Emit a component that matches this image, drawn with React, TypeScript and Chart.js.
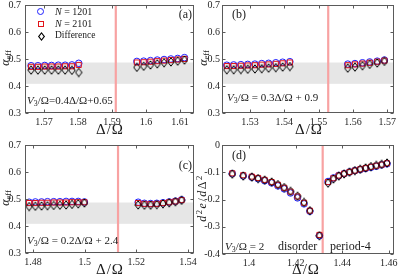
import React, { useEffect, useRef } from "react";
import { Chart, registerables } from "chart.js";

Chart.register(...registerables);

// ---------------- data ----------------
// panel (a)  V3/Ω = 0.4Δ/Ω + 0.65
const aDelta = [1.5662, 1.5682, 1.5702, 1.5722, 1.5742, 1.5762, 1.5782, 1.5802, 1.5973, 1.5993, 1.6013, 1.6033, 1.6053, 1.6073, 1.6093, 1.6113];
const aN1201 = [0.475, 0.475, 0.476, 0.476, 0.477, 0.477, 0.478, 0.484, 0.491, 0.492, 0.494, 0.496, 0.498, 0.5, 0.502, 0.505];
const aN2101 = [0.471, 0.471, 0.472, 0.472, 0.472, 0.473, 0.473, 0.478, 0.487, 0.488, 0.49, 0.492, 0.494, 0.496, 0.498, 0.5];
const aDiff = [0.459, 0.459, 0.459, 0.459, 0.459, 0.459, 0.458, 0.45, 0.469, 0.473, 0.478, 0.482, 0.486, 0.489, 0.492, 0.496];
const aTransition = 1.5911;
const aXTicks = [1.57, 1.58, 1.59, 1.6, 1.61];

// panel (b)  V3/Ω = 0.3Δ/Ω + 0.9
const bDelta = [1.5232, 1.5252, 1.5273, 1.5293, 1.5314, 1.5334, 1.5354, 1.5375, 1.5395, 1.5416, 1.5585, 1.5606, 1.5628, 1.5649, 1.5671, 1.5692];
const bN1201 = [0.477, 0.478, 0.479, 0.48, 0.481, 0.483, 0.484, 0.486, 0.488, 0.49, 0.481, 0.483, 0.486, 0.489, 0.492, 0.496];
const bN2101 = [0.474, 0.474, 0.475, 0.476, 0.477, 0.479, 0.48, 0.482, 0.484, 0.487, 0.477, 0.48, 0.483, 0.486, 0.49, 0.494];
const bDiff = [0.46, 0.46, 0.461, 0.462, 0.463, 0.464, 0.466, 0.468, 0.47, 0.472, 0.466, 0.47, 0.475, 0.48, 0.485, 0.491];
const bTransition = 1.5528;
const bXTicks = [1.53, 1.54, 1.55, 1.56, 1.57];

// panel (c)  V3/Ω = 0.2Δ/Ω + 2.4
const cDelta = [1.4785, 1.4809, 1.4833, 1.4856, 1.488, 1.4904, 1.4928, 1.4951, 1.4975, 1.4999, 1.5207, 1.5231, 1.5255, 1.5279, 1.5303, 1.5327, 1.5351, 1.5375];
const cN1201 = [0.488, 0.489, 0.489, 0.49, 0.49, 0.49, 0.491, 0.491, 0.491, 0.489, 0.488, 0.484, 0.483, 0.484, 0.486, 0.489, 0.492, 0.497];
const cN2101 = [0.485, 0.485, 0.486, 0.486, 0.487, 0.487, 0.487, 0.488, 0.488, 0.488, 0.485, 0.482, 0.481, 0.482, 0.485, 0.488, 0.491, 0.496];
const cDiff = [0.472, 0.473, 0.474, 0.475, 0.476, 0.477, 0.478, 0.48, 0.482, 0.485, 0.478, 0.477, 0.477, 0.479, 0.482, 0.486, 0.49, 0.495];
const cTransition = 1.5129;
const cXTicks = [1.48, 1.5, 1.52, 1.54];

// shared alpha_eff axis and grey band
const alphaYTicks = [0.3, 0.4, 0.5, 0.6, 0.7];
const alphaBand = [0.408, 0.487];

// panel (d)  V3/Ω = 2, second derivative of energy
const dDelta = [1.3928, 1.3975, 1.4012, 1.4039, 1.4067, 1.4097, 1.4124, 1.4151, 1.4178, 1.4208, 1.4236, 1.4261, 1.4302, 1.4339, 1.4362, 1.4385, 1.4408, 1.4431, 1.4454, 1.4477, 1.45, 1.4523, 1.4546, 1.4569, 1.4592];
const dN1201 = [-0.105, -0.113, -0.118, -0.124, -0.131, -0.139, -0.15, -0.161, -0.176, -0.194, -0.216, -0.243, -0.333, -0.134, -0.121, -0.112, -0.105, -0.099, -0.094, -0.09, -0.086, -0.082, -0.078, -0.073, -0.069];
const dN2101 = [-0.104, -0.111, -0.116, -0.121, -0.128, -0.136, -0.146, -0.157, -0.171, -0.189, -0.212, -0.241, -0.33, -0.136, -0.122, -0.112, -0.105, -0.099, -0.094, -0.089, -0.085, -0.08, -0.076, -0.072, -0.067];
const dDiff = [-0.107, -0.114, -0.118, -0.123, -0.129, -0.136, -0.145, -0.156, -0.17, -0.188, -0.211, -0.241, -0.333, -0.14, -0.125, -0.114, -0.106, -0.1, -0.094, -0.089, -0.084, -0.079, -0.075, -0.071, -0.066];
const dTransition = 1.4316;
const dXTicks = [1.4, 1.42, 1.44, 1.46];
const dYTicks = [-0.4, -0.3, -0.2, -0.1, 0];

// ---------------- style ----------------
const FONT = '"Liberation Serif", "Times New Roman", Times, serif';
const BLUE = "rgb(30,30,255)";
const RED = "rgb(225,20,25)";
const BLACK = "#000";
const TEXT = "#1a1a1a";

type PanelProps = {
  left: number;
  top: number;
  width: number;
  height: number;
  yAxisW: number;
  xAxisH: number;
  padTop: number;
  padRight: number;
  yPad: number;
  xMin: number;
  xMax: number;
  yMin: number;
  yMax: number;
  xTicks: number[];
  yTicks: number[];
  delta: number[];
  n1201: number[];
  n2101: number[];
  diff: number[];
  transition: number;
  band?: number[];
};

const fmt = (v: number) => String(Number(Number(v).toFixed(3)));

function makeDiamond(): HTMLCanvasElement {
  const c = document.createElement("canvas");
  c.width = 8;
  c.height = 10;
  const g = c.getContext("2d")!;
  g.strokeStyle = BLACK;
  g.lineWidth = 1;
  g.beginPath();
  g.moveTo(4, 0.8);
  g.lineTo(7.2, 5);
  g.lineTo(4, 9.2);
  g.lineTo(0.8, 5);
  g.closePath();
  g.stroke();
  return c;
}

function Panel(p: PanelProps) {
  const ref = useRef<HTMLCanvasElement | null>(null);
  useEffect(() => {
    const canvas = ref.current!;
    const diamond = makeDiamond();
    const decor = {
      id: "decor",
      beforeDatasetsDraw(chart: any) {
        const { ctx, chartArea, scales } = chart;
        const { left, right, top, bottom } = chartArea;
        ctx.save();
        if (p.band) {
          const y1 = scales.y.getPixelForValue(p.band[1]);
          const y0 = scales.y.getPixelForValue(p.band[0]);
          ctx.fillStyle = "#e6e6e6";
          ctx.fillRect(left, y1, right - left, y0 - y1);
        }
        const px = scales.x.getPixelForValue(p.transition);
        ctx.strokeStyle = "rgb(248,162,162)";
        ctx.lineWidth = 2.2;
        ctx.beginPath();
        ctx.moveTo(px, top);
        ctx.lineTo(px, bottom);
        ctx.stroke();
        ctx.restore();
      },
      afterDraw(chart: any) {
        const { ctx, chartArea, scales } = chart;
        const l = Math.round(chartArea.left) + 0.5;
        const r = Math.round(chartArea.right) - 0.5;
        const t = Math.round(chartArea.top) + 0.5;
        const b = Math.round(chartArea.bottom) - 0.5;
        ctx.save();
        ctx.strokeStyle = "#5a5a5a";
        ctx.lineWidth = 1;
        ctx.strokeRect(l, t, r - l, b - t);
        ctx.beginPath();
        const tl = 3;
        for (const v of p.xTicks) {
          const x = Math.round(scales.x.getPixelForValue(v)) + 0.5;
          ctx.moveTo(x, b);
          ctx.lineTo(x, b - tl);
          ctx.moveTo(x, t);
          ctx.lineTo(x, t + tl);
        }
        for (const v of p.yTicks) {
          const y = Math.round(scales.y.getPixelForValue(v)) + 0.5;
          ctx.moveTo(l, y);
          ctx.lineTo(l + tl, y);
          ctx.moveTo(r, y);
          ctx.lineTo(r - tl, y);
        }
        ctx.stroke();
        ctx.restore();
      },
    };
    const pts = (ys: number[]) => p.delta.map((x, i) => ({ x, y: ys[i] }));
    const chart = new Chart(canvas, {
      type: "scatter",
      data: {
        datasets: [
          {
            label: "N = 1201",
            data: pts(p.n1201),
            pointStyle: "circle",
            pointRadius: 3.3,
            borderColor: BLUE,
            backgroundColor: "rgba(0,0,0,0)",
            borderWidth: 1,
            order: 3,
          },
          {
            label: "N = 2101",
            data: pts(p.n2101),
            pointStyle: "rect",
            pointRadius: 3.6,
            borderColor: RED,
            backgroundColor: "rgba(0,0,0,0)",
            borderWidth: 1,
            order: 2,
          },
          {
            label: "Difference",
            data: pts(p.diff),
            pointStyle: diamond as any,
            pointRadius: 4,
            borderColor: BLACK,
            backgroundColor: "rgba(0,0,0,0)",
            borderWidth: 1,
            order: 1,
          },
        ],
      },
      options: {
        animation: false,
        responsive: false,
        maintainAspectRatio: false,
        events: [],
        layout: { padding: { left: 0, right: p.padRight, top: p.padTop, bottom: 0 } },
        plugins: { legend: { display: false }, tooltip: { enabled: false } },
        scales: {
          x: {
            type: "linear",
            min: p.xMin,
            max: p.xMax,
            grid: { display: false, drawTicks: false },
            border: { display: false },
            afterBuildTicks: (s: any) => {
              s.ticks = p.xTicks.map((v) => ({ value: v }));
            },
            afterFit: (s: any) => {
              s.height = p.xAxisH;
              s.paddingLeft = 0;
              s.paddingRight = 0;
              s.paddingTop = 0;
              s.paddingBottom = 0;
            },
            ticks: {
              padding: 3,
              color: "#262626",
              font: { family: FONT, size: 10 },
              maxRotation: 0,
              autoSkip: false,
              callback: (v: any) => fmt(v),
            },
          },
          y: {
            type: "linear",
            min: p.yMin,
            max: p.yMax,
            grid: { display: false, drawTicks: false },
            border: { display: false },
            afterBuildTicks: (s: any) => {
              s.ticks = p.yTicks.map((v) => ({ value: v }));
            },
            afterFit: (s: any) => {
              s.width = p.yAxisW;
              s.paddingLeft = 0;
              s.paddingRight = 0;
              s.paddingTop = 0;
              s.paddingBottom = 0;
            },
            ticks: {
              padding: p.yPad,
              color: "#262626",
              font: { family: FONT, size: 10 },
              autoSkip: false,
              callback: (v: any) => fmt(v),
            },
          },
        },
      } as any,
      plugins: [decor],
    });
    return () => chart.destroy();
  }, []);
  return (
    <canvas
      ref={ref}
      width={p.width}
      height={p.height}
      style={{ position: "absolute", left: p.left, top: p.top, width: p.width, height: p.height }}
    />
  );
}

function Txt(props: {
  x: number;
  y: number;
  size: number;
  align?: "left" | "center" | "right";
  rotate?: boolean;
  spacing?: number;
  children: React.ReactNode;
}) {
  const { x, y, size, align = "left", rotate = false, spacing = 0 } = props;
  const tx = align === "left" ? "0" : align === "center" ? "-50%" : "-100%";
  return (
    <div
      style={{
        position: "absolute",
        left: x,
        top: y,
        transform: rotate ? "translate(-50%,-50%) rotate(-90deg)" : `translate(${tx},-50%)`,
        fontFamily: FONT,
        fontSize: size,
        lineHeight: 1,
        whiteSpace: "nowrap",
        color: TEXT,
        letterSpacing: spacing,
      }}
    >
      {props.children}
    </div>
  );
}

const Sub = (p: { children: React.ReactNode }) => (
  <span style={{ fontSize: "0.72em", verticalAlign: "-0.28em", lineHeight: 0 }}>{p.children}</span>
);
const Sup = (p: { children: React.ReactNode }) => (
  <span style={{ fontSize: "0.72em", verticalAlign: "0.45em", lineHeight: 0 }}>{p.children}</span>
);

const V3 = () => (
  <>
    <i>V</i>
    <Sub>3</Sub>/Ω
  </>
);

const AlphaEff = () => (
  <>
    <i>α</i>
    <Sub>eff</Sub>
  </>
);

export default function App() {
  useEffect(() => {
    document.body.style.margin = "0";
  }, []);
  const alphaCommon = { yMin: 0.3, yMax: 0.7, yTicks: alphaYTicks, band: alphaBand };
  return (
    <div style={{ position: "absolute", left: 0, top: 0, width: 399, height: 279, overflow: "hidden", background: "#fff" }}>
      <Panel
        left={0} top={0} width={199} height={140}
        yAxisW={25} xAxisH={27} padTop={3} padRight={5} yPad={4}
        xMin={1.5644} xMax={1.6141} xTicks={aXTicks}
        delta={aDelta} n1201={aN1201} n2101={aN2101} diff={aDiff} transition={aTransition}
        {...alphaCommon}
      />
      <Panel
        left={199} top={0} width={200} height={140}
        yAxisW={23} xAxisH={27} padTop={3} padRight={5} yPad={2}
        xMin={1.5218} xMax={1.572} xTicks={bXTicks}
        delta={bDelta} n1201={bN1201} n2101={bN2101} diff={bDiff} transition={bTransition}
        {...alphaCommon}
      />
      <Panel
        left={0} top={140} width={199} height={139}
        yAxisW={25} xAxisH={26} padTop={3} padRight={5} yPad={4}
        xMin={1.4769} xMax={1.5423} xTicks={cXTicks}
        delta={cDelta} n1201={cN1201} n2101={cN2101} diff={cDiff} transition={cTransition}
        {...alphaCommon}
      />
      <Panel
        left={199} top={140} width={200} height={139}
        yAxisW={23} xAxisH={25} padTop={3} padRight={5} yPad={2}
        xMin={1.3884} xMax={1.4622} xTicks={dXTicks}
        yMin={-0.4} yMax={0} yTicks={dYTicks}
        delta={dDelta} n1201={dN1201} n2101={dN2101} diff={dDiff} transition={dTransition}
      />

      {/* legend in (a) */}
      <div style={{ position: "absolute", left: 37, top: 8, width: 7, height: 7, border: `1px solid ${BLUE}`, borderRadius: "50%", boxSizing: "border-box" }} />
      <div style={{ position: "absolute", left: 38, top: 21, width: 6, height: 6, border: `1px solid ${RED}`, boxSizing: "border-box" }} />
      <div style={{ position: "absolute", left: 38.5, top: 33.5, width: 5, height: 5, border: `1px solid ${BLACK}`, boxSizing: "border-box", transform: "scaleY(1.3) rotate(45deg)" }} />
      <Txt x={55} y={12} size={10}><i>N</i> = 1201</Txt>
      <Txt x={55} y={24} size={10}><i>N</i> = 2101</Txt>
      <Txt x={55} y={36} size={9.5}>Difference</Txt>

      {/* panel labels */}
      <Txt x={192} y={14} size={12} align="right">(a)</Txt>
      <Txt x={232} y={14} size={12}>(b)</Txt>
      <Txt x={192} y={165} size={12} align="right">(c)</Txt>
      <Txt x={232} y={155} size={12}>(d)</Txt>

      {/* annotations */}
      <Txt x={27} y={100} size={11}><V3 />=0.4Δ/Ω+0.65</Txt>
      <Txt x={227} y={97} size={11}><V3 /> = 0.3Δ/Ω + 0.9</Txt>
      <Txt x={27} y={240} size={11}><V3 /> = 0.2Δ/Ω + 2.4</Txt>
      <Txt x={225} y={246} size={11}><V3 /> = 2</Txt>
      <Txt x={278} y={246} size={12}>disorder</Txt>
      <Txt x={330} y={246} size={12}>period-4</Txt>

      {/* axis titles */}
      <Txt x={110} y={129} size={15} align="center" spacing={1}>Δ/Ω</Txt>
      <Txt x={309} y={129} size={15} align="center" spacing={1}>Δ/Ω</Txt>
      <Txt x={110} y={269} size={15} align="center" spacing={1}>Δ/Ω</Txt>
      <Txt x={306} y={269} size={15} align="center" spacing={1}>Δ/Ω</Txt>
      <Txt x={5} y={58} size={12} rotate><AlphaEff /></Txt>
      <Txt x={203} y={58} size={12} rotate><AlphaEff /></Txt>
      <Txt x={5} y={198} size={12} rotate><AlphaEff /></Txt>
      <Txt x={202} y={198} size={12} rotate spacing={1.5}>
        <i>d</i><Sup>2</Sup><i>e</i>/<i>d</i>Δ<Sup>2</Sup>
      </Txt>
    </div>
  );
}
